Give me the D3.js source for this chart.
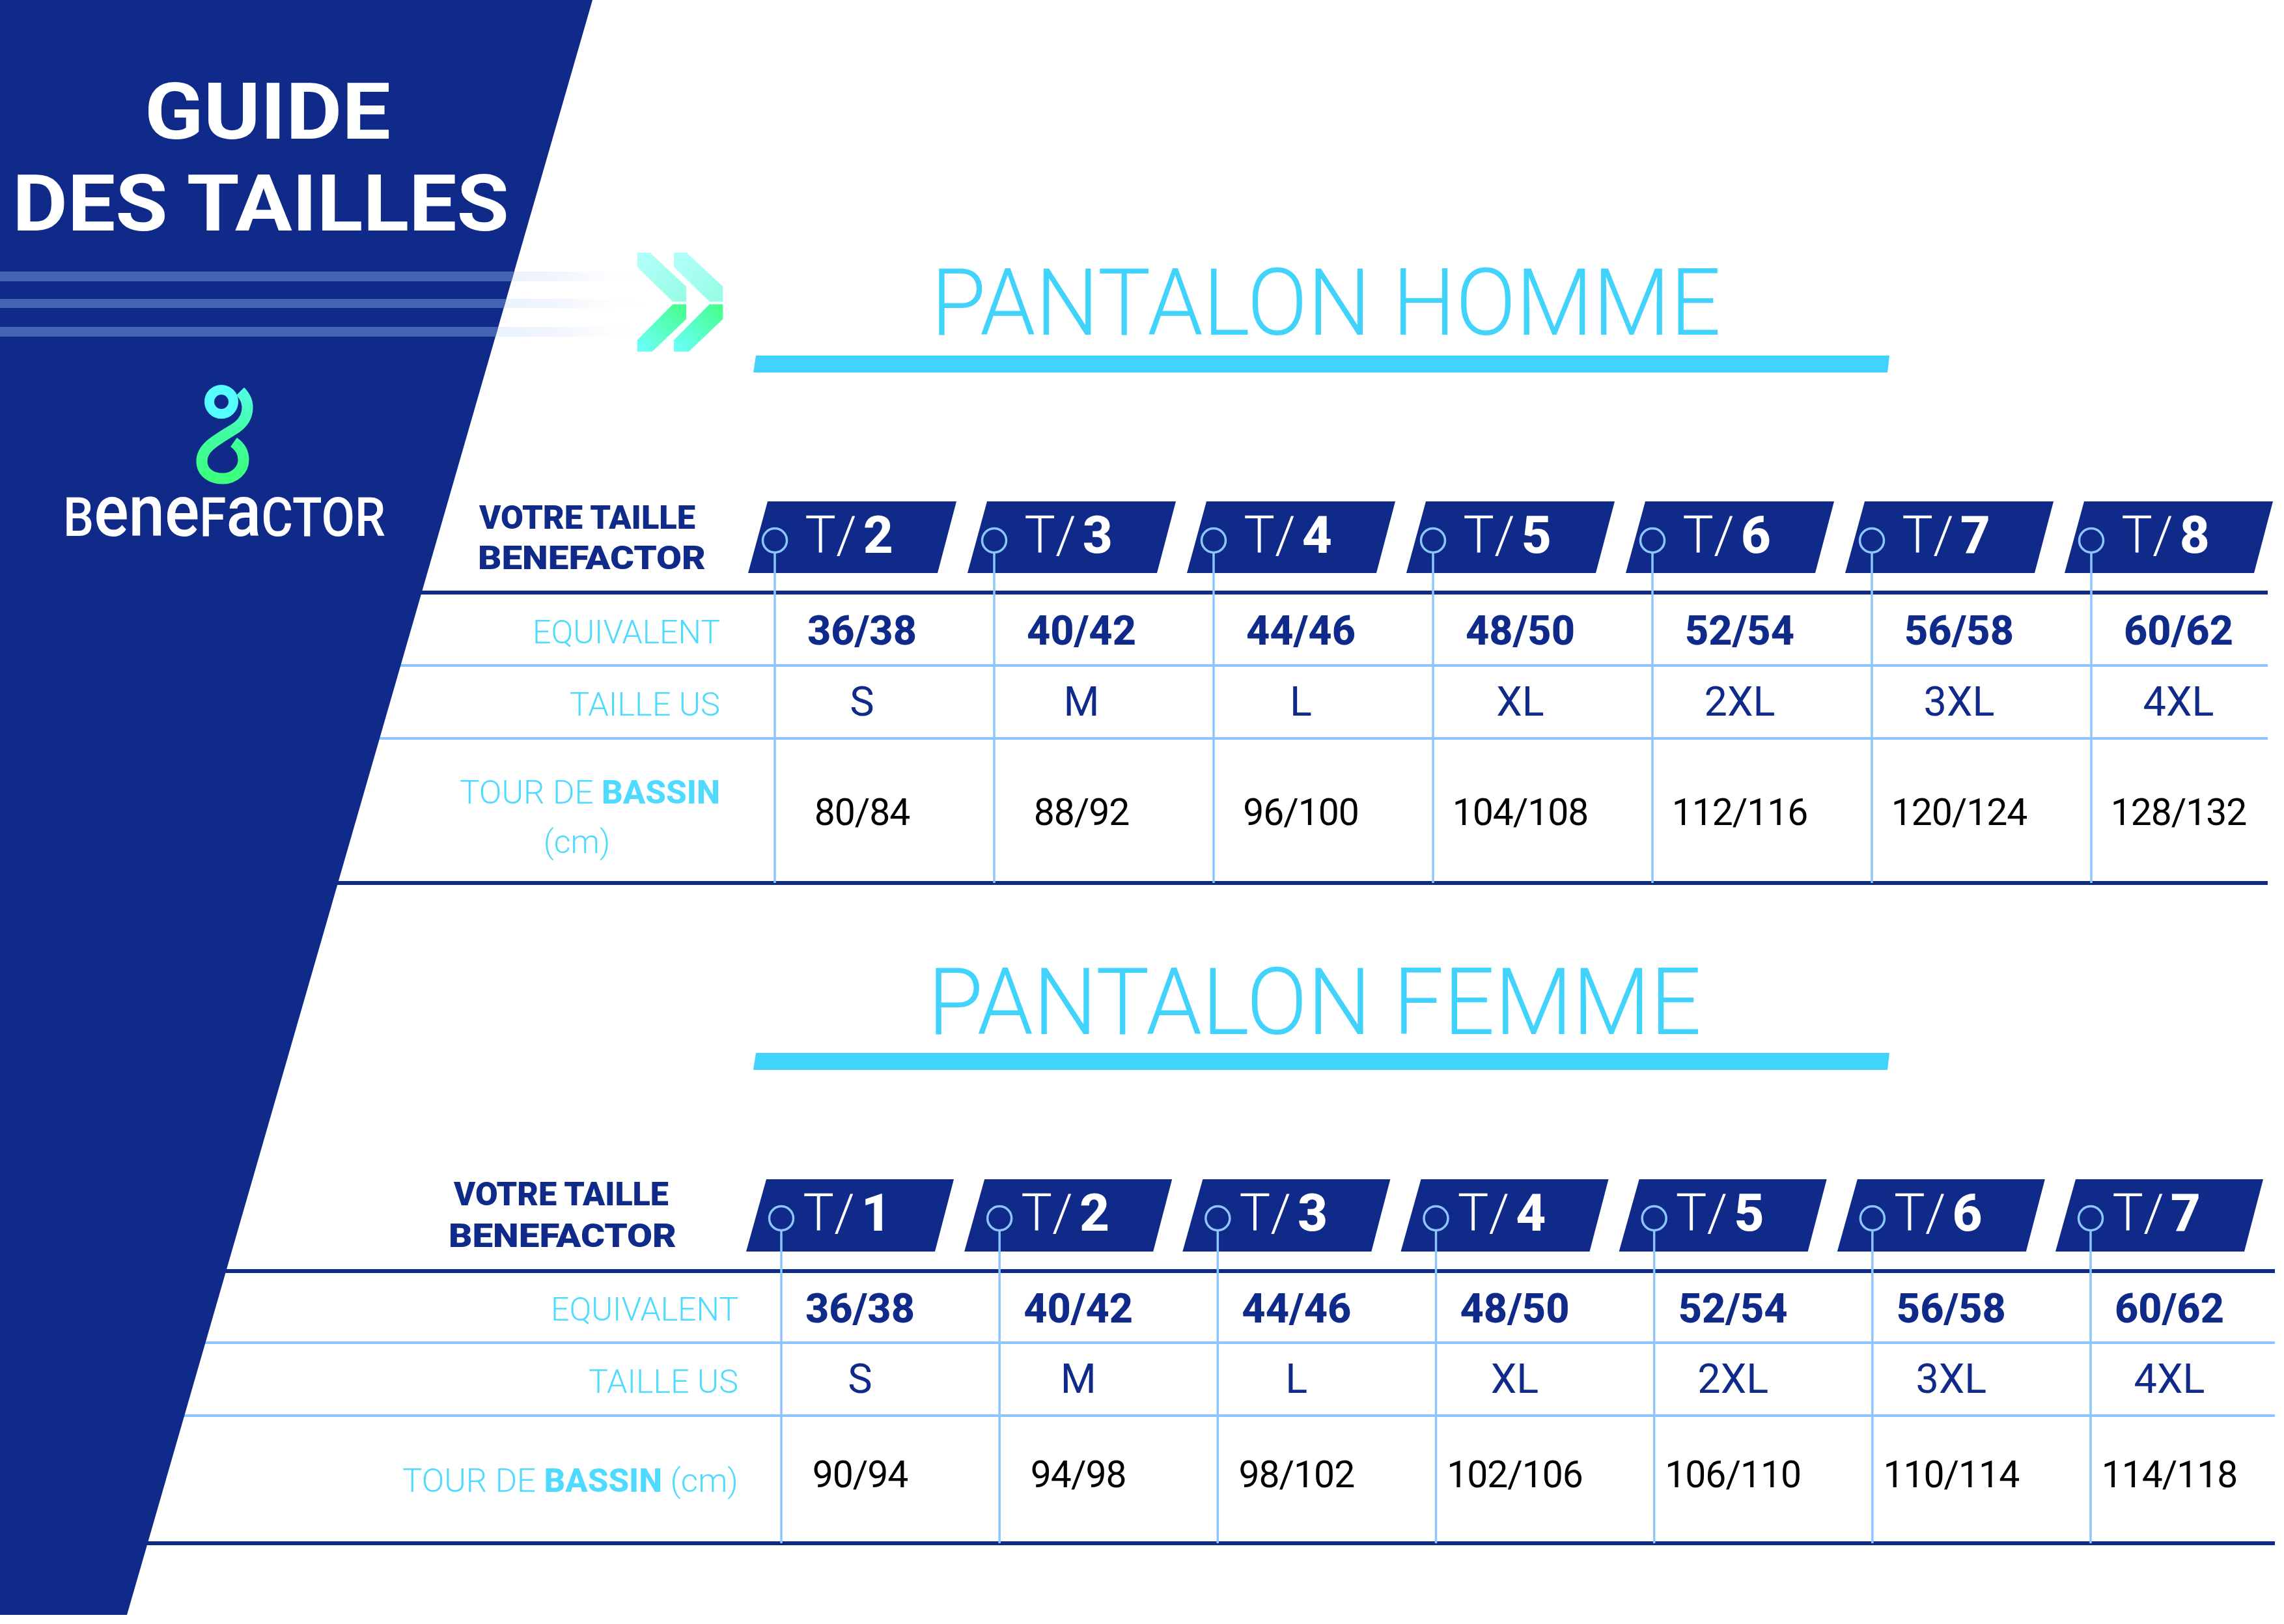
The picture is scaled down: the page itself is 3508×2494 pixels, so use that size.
<!DOCTYPE html>
<html><head><meta charset="utf-8">
<script src="https://cdn.jsdelivr.net/npm/d3@7"></script>
<style>html,body{margin:0;padding:0;background:#fff;} svg{display:block;}</style>
</head><body>
<script>
// ---------- DATA ----------
const HOMME_SIZES = ["2","3","4","5","6","7","8"];
const HOMME_EQUIVALENT = ["36/38","40/42","44/46","48/50","52/54","56/58","60/62"];
const HOMME_US = ["S","M","L","XL","2XL","3XL","4XL"];
const HOMME_BASSIN = ["80/84","88/92","96/100","104/108","112/116","120/124","128/132"];

const FEMME_SIZES = ["1","2","3","4","5","6","7"];
const FEMME_EQUIVALENT = ["36/38","40/42","44/46","48/50","52/54","56/58","60/62"];
const FEMME_US = ["S","M","L","XL","2XL","3XL","4XL"];
const FEMME_BASSIN = ["90/94","94/98","98/102","102/106","106/110","110/114","114/118"];

const TITLES = ["PANTALON HOMME","PANTALON FEMME"];
const ROW_LABELS = ["EQUIVALENT","TAILLE US","TOUR DE ","BASSIN"," (cm)"];
const HEADER_LABEL = ["VOTRE TAILLE","BENEFACTOR"];
const MAIN_TITLE = ["GUIDE","DES TAILLES"];

// ---------- STYLE / LAYOUT ----------
const W = 3508, H = 2494;
const NAVY = "#0f2a88", CYAN = "#42d3fd", LABEL = "#4fdaff", LINE = "#8dc6ff";
const FONT = "Roboto, 'Noto Sans', 'DejaVu Sans', sans-serif";

const svg = d3.select("body").append("svg").attr("width", W).attr("height", H)
  .style("font-family", FONT);
const defs = svg.append("defs");

function grad(id, x1, y1, x2, y2, stops, units) {
  const g = defs.append("linearGradient").attr("id", id)
    .attr("x1", x1).attr("y1", y1).attr("x2", x2).attr("y2", y2);
  if (units) g.attr("gradientUnits", units);
  stops.forEach(s => g.append("stop").attr("offset", s[0]).attr("stop-color", s[1]).attr("stop-opacity", s[2] == null ? 1 : s[2]));
}
grad("stripeFade", 640, 0, 1010, 0, [[0, "#d6e4f9", 0.75], [0.6, "#e4edfb", 0.5], [1, "#ffffff", 0]], "userSpaceOnUse");
grad("chevTop", 0, 0, 1, 1, [[0, "#b3fffb"], [1, "#95fde3"]]);
grad("chevBot", 0, 1, 1, 0, [[0, "#6dffff"], [1, "#44ff88"]]);
grad("logoGrad", 0, 0, 0, 1, [[0, "#52fde0"], [0.5, "#40fda0"], [1, "#3cff7c"]]);

svg.append("rect").attr("width", W).attr("height", H).attr("fill", "#fff");

const PANEL = [[0, 0], [910, 0], [195, 2480], [0, 2480]];
defs.append("clipPath").attr("id", "panelClip").append("polygon")
  .attr("points", PANEL.map(p => p.join(",")).join(" "));

// stripes on white (fading)
const STRIPES = [[417, 432], [459, 473], [502, 517]];
svg.append("g").selectAll("rect").data(STRIPES).join("rect")
  .attr("x", 500).attr("width", 510).attr("y", d => d[0]).attr("height", d => d[1] - d[0])
  .attr("fill", "url(#stripeFade)");

// ---------- TABLES ----------
const TABLES = [
  { sizes: HOMME_SIZES, rows: [HOMME_EQUIVALENT, HOMME_US, HOMME_BASSIN], title: TITLES[0],
    x0: 1190, x1: 3212, badge: [-41, -11, 279, 250], badgeTop: 770, badgeBot: 880, cy: 830,
    labelDx: 114, valueDx: 134, badgeBase: 849,
    hdr: 910, l1: 1022, l2: 1134, bot: 1356, right: 3483,
    labelRight: 1106, valueBase: [990, 1099, 1267], labelBase: [988, 1099, 1234],
    labelLen: [288, 231, 400], cmInline: false, cm: [886, 1310],
    votre: [736, 332, 812, 734, 350, 874],
    titleX: 1430, titleW: 1213, titleY: 514, bar: 546 },
  { sizes: FEMME_SIZES, rows: [FEMME_EQUIVALENT, FEMME_US, FEMME_BASSIN], title: TITLES[1],
    x0: 1200, x1: 3211, badge: [-54, -23, 265, 236], badgeTop: 1811, badgeBot: 1922, cy: 1871,
    labelDx: 101, valueDx: 121, badgeBase: 1890,
    hdr: 1952, l1: 2062, l2: 2174, bot: 2370, right: 3494,
    labelRight: 1134, valueBase: [2031, 2139, 2284], labelBase: [2028, 2139, 2291],
    labelLen: [288, 230, 516], cmInline: true,
    votre: [697, 330, 1851, 689, 350, 1915],
    titleX: 1425, titleW: 1188, titleY: 1588, bar: 1617 }
];

// horizontal rules (drawn under the panel)
TABLES.forEach(t => {
  const g = svg.append("g");
  [[t.hdr, NAVY, 6], [t.l1, LINE, 4], [t.l2, LINE, 4], [t.bot, NAVY, 6]].forEach(r => {
    g.append("line").attr("x1", 0).attr("x2", t.right).attr("y1", r[0]).attr("y2", r[0])
      .attr("stroke", r[1]).attr("stroke-width", r[2]);
  });
});

// ---------- LEFT PANEL ----------
svg.append("polygon").attr("points", PANEL.map(p => p.join(",")).join(" ")).attr("fill", NAVY);
svg.append("g").attr("clip-path", "url(#panelClip)").selectAll("rect").data(STRIPES).join("rect")
  .attr("x", 0).attr("width", 1000).attr("y", d => d[0]).attr("height", d => d[1] - d[0])
  .attr("fill", "#4463b1");

// main title: two lines
svg.append("text").attr("x", 222).attr("y", 213).attr("textLength", 378).attr("lengthAdjust", "spacingAndGlyphs")
  .attr("font-size", 120).attr("font-weight", 700).attr("fill", "#fff").text(MAIN_TITLE[0]);
svg.append("text").attr("x", 19).attr("y", 354).attr("textLength", 763).attr("lengthAdjust", "spacingAndGlyphs")
  .attr("font-size", 120).attr("font-weight", 700).attr("fill", "#fff").text(MAIN_TITLE[1]);

// logo
const logo = svg.append("g");
logo.append("circle").attr("cx", 340).attr("cy", 617).attr("r", 18.5)
  .attr("fill", "none").attr("stroke", "#55fdff").attr("stroke-width", 15);
logo.append("path")
  .attr("d", "M 369 601 C 386 618, 384 645, 358 660 C 330 677, 310 688, 310 708 C 310 726, 325 735, 342 735 C 360 735, 374 722, 374 706 C 374 695, 369 686, 359 679")
  .attr("fill", "none").attr("stroke", "url(#logoGrad)").attr("stroke-width", 17).attr("stroke-linecap", "butt");
const wordG = svg.append("g");
const word = wordG.append("text").attr("x", 0).attr("y", 0)
  .attr("font-size", 84).attr("font-weight", 500).attr("fill", "#fff");
word.append("tspan").text("B");
word.append("tspan").attr("font-size", 112).text("ene");
word.append("tspan").text("F");
word.append("tspan").attr("font-size", 112).text("a");
word.append("tspan").text("CTOR");
const ww = word.node().getComputedTextLength() || 550;
wordG.attr("transform", `translate(97,823) scale(${495 / ww},1)`);

// chevrons
const CHEV_TOP = [[0, 0], [19.7, 0], [75.3, 52], [75.3, 75.3], [54.7, 75.3], [0, 22]];
const CHEV_BOT = [[54.7, 79.3], [75.3, 79.3], [75.3, 102], [23, 152], [0, 152], [0, 134.3]];
[0, 56.3].forEach(dx => {
  const g = svg.append("g").attr("transform", `translate(${978.7 + dx},388)`);
  g.append("polygon").attr("points", CHEV_TOP.map(p => p.join(",")).join(" ")).attr("fill", "url(#chevTop)");
  g.append("polygon").attr("points", CHEV_BOT.map(p => p.join(",")).join(" ")).attr("fill", "url(#chevBot)");
});

// ---------- TABLE CONTENT ----------
TABLES.forEach(t => {
  const g = svg.append("g");
  const x = d3.scalePoint().domain(t.sizes).range([t.x0, t.x1]);

  // title + underline bar
  g.append("text").attr("x", t.titleX).attr("y", t.titleY).attr("textLength", t.titleW)
    .attr("lengthAdjust", "spacingAndGlyphs").attr("font-size", 143).attr("font-weight", 300)
    .attr("fill", CYAN).text(t.title);
  g.append("polygon").attr("points",
    [[1161, t.bar], [2902, t.bar], [2899, t.bar + 26], [1157, t.bar + 26]].map(p => p.join(",")).join(" "))
    .attr("fill", CYAN);

  // header label (two lines, one block)
  const v = t.votre;
  const hl = g.append("text").attr("font-size", 50).attr("font-weight", 900).attr("fill", NAVY);
  hl.append("tspan").attr("x", v[0]).attr("y", v[2]).attr("textLength", v[1]).attr("lengthAdjust", "spacingAndGlyphs").text(HEADER_LABEL[0]);
  hl.append("tspan").attr("x", v[3]).attr("y", v[5]).attr("textLength", v[4]).attr("lengthAdjust", "spacingAndGlyphs").text(HEADER_LABEL[1]);

  // badges
  const b = t.badge;
  g.selectAll("polygon.badge").data(t.sizes).join("polygon").attr("class", "badge")
    .attr("points", d => {
      const cx = x(d);
      return [[cx + b[0], t.badgeBot], [cx + b[1], t.badgeTop], [cx + b[2], t.badgeTop], [cx + b[3], t.badgeBot]]
        .map(p => p.join(",")).join(" ");
    })
    .attr("fill", NAVY);
  const bl = g.selectAll("text.badgeLabel").data(t.sizes).join("text").attr("class", "badgeLabel")
    .attr("x", d => x(d) + t.labelDx).attr("y", t.badgeBase).attr("text-anchor", "middle")
    .attr("font-size", 80).attr("fill", "#fff");
  bl.append("tspan").attr("font-weight", 300).text("T/");
  bl.append("tspan").attr("font-weight", 800).attr("dx", 10).text(d => d);

  // vertical guides + circles
  g.selectAll("line.v").data(t.sizes).join("line").attr("class", "v")
    .attr("x1", d => x(d)).attr("x2", d => x(d)).attr("y1", t.cy + 19).attr("y2", t.bot)
    .attr("stroke", LINE).attr("stroke-width", 3.5);
  g.selectAll("circle.c").data(t.sizes).join("circle").attr("class", "c")
    .attr("cx", d => x(d)).attr("cy", t.cy).attr("r", 18.5)
    .attr("fill", "none").attr("stroke", LINE).attr("stroke-width", 3.5);

  // row labels
  g.append("text").attr("x", t.labelRight).attr("y", t.labelBase[0]).attr("text-anchor", "end")
    .attr("textLength", t.labelLen[0]).attr("lengthAdjust", "spacingAndGlyphs")
    .attr("font-size", 50).attr("font-weight", 300).attr("fill", LABEL).text(ROW_LABELS[0]);
  g.append("text").attr("x", t.labelRight).attr("y", t.labelBase[1]).attr("text-anchor", "end")
    .attr("textLength", t.labelLen[1]).attr("lengthAdjust", "spacingAndGlyphs")
    .attr("font-size", 50).attr("font-weight", 300).attr("fill", LABEL).text(ROW_LABELS[1]);
  const tb = g.append("text").attr("x", t.labelRight).attr("y", t.labelBase[2]).attr("text-anchor", "end")
    .attr("textLength", t.labelLen[2]).attr("lengthAdjust", "spacingAndGlyphs")
    .attr("font-size", 50).attr("fill", LABEL);
  tb.append("tspan").attr("font-weight", 300).text(ROW_LABELS[2]);
  tb.append("tspan").attr("font-weight", 800).text(ROW_LABELS[3]);
  if (t.cmInline) {
    tb.append("tspan").attr("font-weight", 300).text(ROW_LABELS[4]);
  } else {
    g.append("text").attr("x", t.cm[0]).attr("y", t.cm[1]).attr("text-anchor", "middle")
      .attr("font-size", 50).attr("font-weight", 300).attr("fill", LABEL).text(ROW_LABELS[4].trim());
  }

  // values
  const styles = [
    { size: 63, weight: 800, fill: NAVY },
    { size: 63, weight: 400, fill: NAVY },
    { size: 57, weight: 400, fill: "#000" }
  ];
  t.rows.forEach((vals, i) => {
    g.selectAll(`text.val${i}`).data(vals).join("text").attr("class", `val${i}`)
      .attr("x", (d, j) => x(t.sizes[j]) + t.valueDx).attr("y", t.valueBase[i])
      .attr("text-anchor", "middle").attr("font-size", styles[i].size)
      .attr("font-weight", styles[i].weight).attr("fill", styles[i].fill)
      .attr("letter-spacing", i === 2 ? -1 : 0)
      .text(d => d);
  });
});
</script>
</body></html>
